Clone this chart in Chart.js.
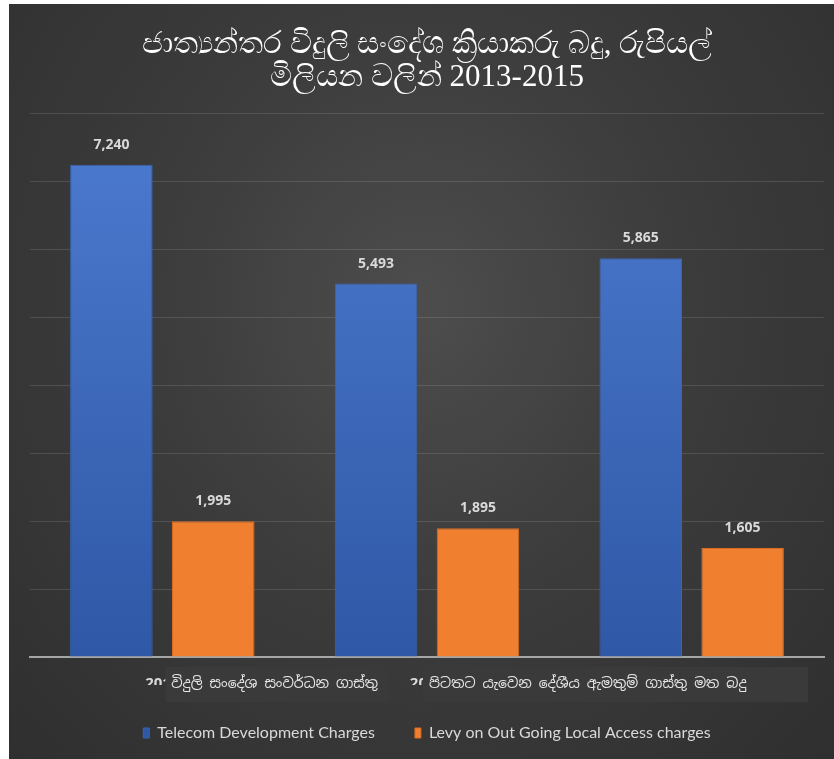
<!DOCTYPE html>
<html>
<head>
<meta charset="utf-8">
<script src="https://cdn.jsdelivr.net/npm/chart.js@4.4.1/dist/chart.umd.min.js"></script>
<style>
  html, body { margin: 0; padding: 0; background: #fff; }
  #wrap {
    position: absolute; left: 9px; top: 4px; width: 825px; height: 755px;
    background: radial-gradient(ellipse at 50% 40%, #4d4d4d 0%, #3c3c3c 45%, #2f2f2f 100%);
  }
  canvas { display: block; }
</style>
</head>
<body>
<div id="wrap"><canvas id="chart" width="825" height="755"></canvas></div>
<script>
const years = ['2013', '2014', '2015'];
const telecomDev = [7240, 5493, 5865];
const levyOutGoing = [1995, 1895, 1605];
const seriesNames = ['Telecom Development Charges', 'Levy on Out Going Local Access charges'];
const titleLines = ['ජාත්‍යන්තර විදුලි සංදේශ ක්‍රියාකරු බදු, රුපියල්', 'මිලියන වලින් 2013-2015'];
// text boxes pasted over the category labels in the original
const overlayTexts = ['විදුලි සංදේශ සංවර්ධන ගාස්තු', 'පිටතට යැවෙන දේශීය ඇමතුම් ගාස්තු මත බදු'];

document.addEventListener('DOMContentLoaded', () => {
    const ctx = document.getElementById('chart').getContext('2d');

    function barFill(context, top, bottom) {
        const area = context.chart.chartArea;
        if (!area) return top;
        const g = context.chart.ctx.createLinearGradient(0, area.top, 0, area.bottom);
        g.addColorStop(0, top);
        g.addColorStop(1, bottom);
        return g;
    }

    // value labels above bars
    const valueLabels = {
        id: 'valueLabels',
        afterDatasetsDraw(chart) {
            const c = chart.ctx;
            c.save();
            c.font = 'bold 14px "Open Sans", sans-serif';
            c.fillStyle = '#d9d9d9';
            c.textAlign = 'center';
            c.textBaseline = 'bottom';
            chart.data.datasets.forEach((ds, i) => {
                chart.getDatasetMeta(i).data.forEach((bar, j) => {
                    c.fillText(ds.data[j].toLocaleString('en-US'), bar.x, bar.y - 13);
                });
            });
            c.restore();
        }
    };

    // the two text boxes covering the year labels
    const overlayBoxes = {
        id: 'overlayBoxes',
        afterDraw(chart) {
            const c = chart.ctx;
            const xs = chart.scales.x;
            const top = xs.top + 10;
            const h = 35;
            const boxes = [
                { left: xs.getPixelForValue(0) + 3, width: 223 },
                { left: xs.getPixelForValue(1) - 4, width: 385 }
            ];
            c.save();
            boxes.forEach((b, i) => {
                c.fillStyle = '#3a3a3a';
                c.fillRect(b.left, top, b.width, h);
                c.font = '14px "Noto Sans Sinhala", "Iskoola Pota", sans-serif';
                c.fillStyle = '#e6e6e6';
                c.textAlign = 'left';
                c.textBaseline = 'middle';
                c.fillText(overlayTexts[i], b.left + 6, top + h / 2);
            });
            c.restore();
        }
    };

    new Chart(ctx, {
        type: 'bar',
        data: {
            labels: years,
            datasets: [
                {
                    label: seriesNames[0],
                    data: telecomDev,
                    backgroundColor: (c) => barFill(c, '#4d7bd0', '#2f58a6'),
                    borderColor: '#3a64b4',
                    borderWidth: 1,
                    categoryPercentage: 0.77,
                    barPercentage: 0.81
                },
                {
                    label: seriesNames[1],
                    data: levyOutGoing,
                    backgroundColor: '#f07f30',
                    borderColor: '#d86c22',
                    borderWidth: 1,
                    categoryPercentage: 0.77,
                    barPercentage: 0.81
                }
            ]
        },
        options: {
            responsive: false,
            animation: false,
            layout: { padding: { left: 21, right: 10, top: 25, bottom: 8 } },
            plugins: {
                title: {
                    display: true,
                    text: titleLines,
                    color: '#ffffff',
                    font: { size: 31, family: '"Liberation Serif", serif', weight: 'normal', lineHeight: 1.05 },
                    padding: { top: 0, bottom: 19 }
                },
                legend: {
                    position: 'bottom',
                    labels: {
                        color: '#d9d9d9',
                        boxWidth: 6,
                        boxHeight: 10,
                        padding: 40,
                        font: { size: 16, family: 'Lato, sans-serif' }
                    }
                },
                tooltip: { enabled: false }
            },
            scales: {
                x: {
                    grid: { display: false, drawTicks: false },
                    border: { color: '#a6a6a6', width: 2 },
                    ticks: {
                        color: '#d9d9d9',
                        padding: 18,
                        font: { size: 15, weight: 'bold', family: '"Open Sans", sans-serif' }
                    },
                    afterFit: (scale) => { scale.height = 28; }
                },
                y: {
                    min: 0,
                    max: 8000,
                    ticks: { display: false, stepSize: 1000 },
                    border: { display: false },
                    grid: { color: 'rgba(255,255,255,0.12)', drawTicks: false }
                }
            }
        },
        plugins: [valueLabels, overlayBoxes]
    });
});
</script>
</body>
</html>
